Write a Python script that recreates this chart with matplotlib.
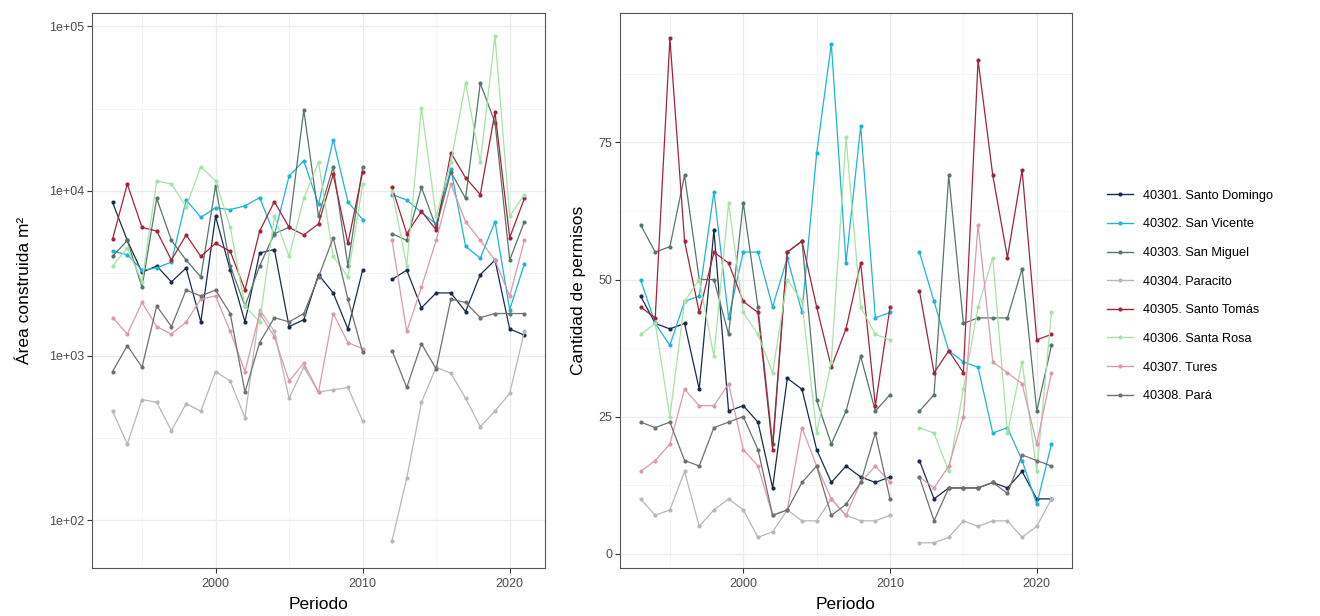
import numpy as np
import matplotlib
matplotlib.use("Agg")
import matplotlib.pyplot as plt
from matplotlib.ticker import FixedLocator, FixedFormatter, NullFormatter
from matplotlib.lines import Line2D

plt.rcParams['font.family'] = ['Liberation Sans', 'DejaVu Sans']

nan = np.nan
years = list(range(1993, 2011)) + [2011] + list(range(2012, 2022))

series = ["40301. Santo Domingo", "40302. San Vicente", "40303. San Miguel",
          "40304. Paracito", "40305. Santo Tomás", "40306. Santa Rosa",
          "40307. Tures", "40308. Pará"]
colors = ["#1a2b4c", "#1cb5d4", "#56766a", "#b8b8b8",
          "#a3233a", "#a6e3a6", "#d99aae", "#707070"]

# Área construida (m2)
area_santo_domingo = [8500, 5000, 3200, 3500, 2800, 3400, 1600, 7000, 3300, 1600, 4200, 4400, 1500, 1650, 3100, 2400, 1450, 3300, nan,
                      2900, 3300, 1950, 2400, 2400, 1850, 3100, 3800, 1450, 1330]
area_san_vicente = [4300, 4100, 3300, 3400, 3700, 8800, 6900, 7900, 7700, 8100, 9100, 5400, 12300, 15200, 8300, 20400, 8600, 6700, nan,
                    9500, 8800, 7400, 6300, 13600, 4600, 3900, 6500, 1900, 3600]
area_san_miguel = [4000, 5000, 2600, 9000, 5000, 3800, 3000, 10700, 3500, 2000, 3500, 5500, 6000, 31000, 7000, 14000, 3500, 14000, nan,
                   5500, 5000, 10500, 6000, 13000, 9000, 45000, 26000, 3800, 6500]
area_paracito = [460, 290, 540, 520, 350, 510, 460, 800, 700, 420, 1900, 1400, 550, 850, 600, 620, 640, 400, nan,
                 75, 180, 520, 850, 780, 550, 370, 460, 590, 1400]
area_santo_tomas = [5100, 11000, 6000, 5700, 3800, 5400, 4000, 4800, 4300, 2500, 5700, 8600, 6000, 5400, 6300, 12600, 4800, 13000, nan,
                    10500, 5500, 7500, 5800, 17000, 12000, 9500, 30000, 5200, 9000]
area_santa_rosa = [3500, 4500, 2800, 11500, 11000, 8000, 14000, 11500, 6000, 2000, 1600, 7000, 4000, 9000, 15000, 4000, 3000, 11000, nan,
                   10000, 3500, 32000, 7000, 15000, 45000, 15000, 87000, 7000, 9500]
area_tures = [1700, 1350, 2100, 1500, 1350, 1600, 2200, 2300, 1400, 800, 1800, 1300, 700, 900, 600, 1800, 1200, 1100, nan,
              5000, 1400, 2600, 5000, 11000, 6500, 5000, 3800, 2300, 5000]
area_para = [800, 1150, 850, 2000, 1500, 2500, 2300, 2500, 1800, 600, 1200, 1700, 1600, 1800, 3000, 5200, 2200, 1050, nan,
             1070, 640, 1180, 830, 2200, 2100, 1700, 1800, 1800, 1800]

# Cantidad de permisos
perm_santo_domingo = [47, 42, 41, 42, 30, 59, 26, 27, 24, 12, 32, 30, 19, 13, 16, 14, 13, 14, nan,
                      17, 10, 12, 12, 12, 13, 12, 15, 10, 10]
perm_san_vicente = [50, 42, 38, 46, 47, 66, 43, 55, 55, 45, 54, 44, 73, 93, 53, 78, 43, 44, nan,
                    55, 46, 37, 35, 34, 22, 23, 17, 9, 20]
perm_san_miguel = [60, 55, 56, 69, 50, 50, 40, 64, 45, 20, 55, 57, 28, 20, 26, 36, 26, 29, nan,
                   26, 29, 69, 42, 43, 43, 43, 52, 26, 38]
perm_paracito = [10, 7, 8, 15, 5, 8, 10, 8, 3, 4, 8, 6, 6, 10, 7, 6, 6, 7, nan,
                 2, 2, 3, 6, 5, 6, 6, 3, 5, 10]
perm_santo_tomas = [45, 43, 94, 57, 44, 55, 53, 46, 44, 19, 55, 57, 45, 34, 41, 53, 27, 45, nan,
                    48, 33, 37, 33, 90, 69, 54, 70, 39, 40]
perm_santa_rosa = [40, 42, 25, 46, 50, 36, 64, 44, 40, 33, 50, 46, 22, 35, 76, 45, 40, 39, nan,
                   23, 22, 15, 30, 45, 54, 22, 35, 15, 44]
perm_tures = [15, 17, 20, 30, 27, 27, 31, 19, 16, 7, 8, 23, 16, 10, 7, 13, 16, 13, nan,
              14, 12, 16, 25, 60, 35, 33, 31, 20, 33]
perm_para = [24, 23, 24, 17, 16, 23, 24, 25, 19, 7, 8, 13, 16, 7, 9, 13, 22, 10, nan,
             14, 6, 12, 12, 12, 13, 11, 18, 17, 16]

area_data = [area_santo_domingo, area_san_vicente, area_san_miguel, area_paracito,
             area_santo_tomas, area_santa_rosa, area_tures, area_para]
perm_data = [perm_santo_domingo, perm_san_vicente, perm_san_miguel, perm_paracito,
             perm_santo_tomas, perm_santa_rosa, perm_tures, perm_para]

fig = plt.figure(figsize=(13.2, 6.16), dpi=100)
W, H = 1320, 616
axL = fig.add_axes([92 / W, 1 - 568 / H, 453 / W, 555 / H])
axR = fig.add_axes([620 / W, 1 - 568 / H, 452 / W, 555 / H])

for ax, data in ((axL, area_data), (axR, perm_data)):
    for vals, col in zip(data, colors):
        ax.plot(years, vals, color=col, lw=0.9, marker='o', ms=3.0,
                markeredgewidth=0, zorder=3)

def style(ax):
    ax.set_xlim(1991.6, 2022.4)
    ax.xaxis.set_major_locator(FixedLocator([2000, 2010, 2020]))
    ax.xaxis.set_minor_locator(FixedLocator([1995, 2005, 2015]))
    ax.grid(which='major', color='#ebebeb', lw=0.9, zorder=0)
    ax.grid(which='minor', color='#f4f4f4', lw=0.6, zorder=0)
    ax.set_axisbelow(True)
    for s in ax.spines.values():
        s.set_color('#555555')
        s.set_linewidth(0.8)
    ax.tick_params(which='major', length=3.5, width=0.8, color='#333333',
                   labelsize=9, labelcolor='#4d4d4d', pad=2)
    ax.tick_params(axis='x', which='major', pad=4)
    ax.tick_params(which='minor', length=0)
    ax.set_xlabel("Periodo", fontsize=12.5, labelpad=5)

style(axL)
style(axR)

axL.set_yscale('log')
axL.set_ylim(10 ** 1.71, 10 ** 5.08)
axL.yaxis.set_major_locator(FixedLocator([1e2, 1e3, 1e4, 1e5]))
axL.yaxis.set_major_formatter(FixedFormatter(["1e+02", "1e+03", "1e+04", "1e+05"]))
axL.yaxis.set_minor_locator(FixedLocator([10 ** 2.5, 10 ** 3.5, 10 ** 4.5]))
axL.yaxis.set_minor_formatter(NullFormatter())
axL.set_ylabel("Área construida m²", fontsize=12.5, labelpad=12)

axR.set_ylim(-2.6, 98.6)
axR.yaxis.set_major_locator(FixedLocator([0, 25, 50, 75]))
axR.yaxis.set_minor_locator(FixedLocator([12.5, 37.5, 62.5, 87.5]))
axR.set_ylabel("Cantidad de permisos", fontsize=12.5, labelpad=9)

handles = [Line2D([0], [0], color=c, lw=1.0, marker='o', ms=3.0, markeredgewidth=0)
           for c in colors]
fig.legend(handles, series, loc='center left', bbox_to_anchor=(1102 / W, 1 - 296 / H),
           frameon=False, fontsize=9.2, handlelength=2.0, handletextpad=0.8,
           labelspacing=1.3, borderaxespad=0)

fig.savefig("out.png", dpi=100)
